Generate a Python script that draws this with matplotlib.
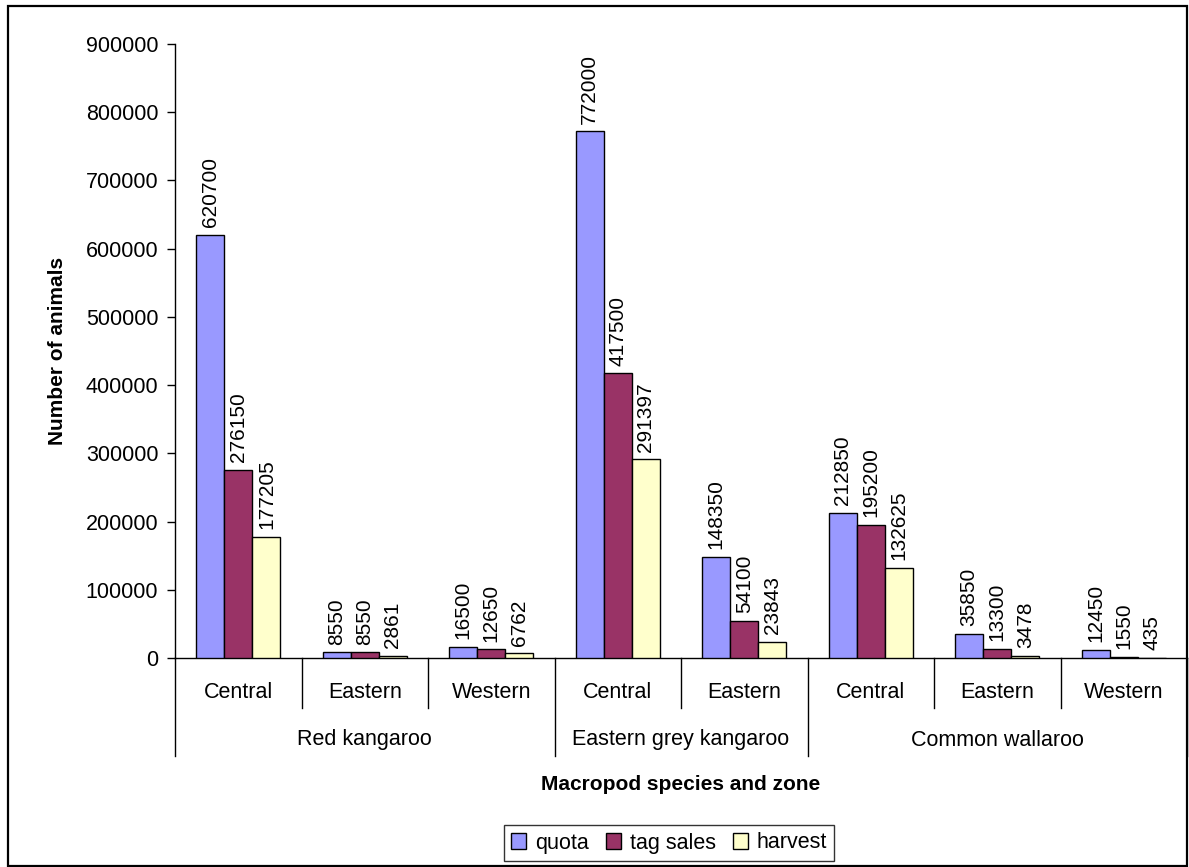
import matplotlib
matplotlib.use("Agg")
import matplotlib.pyplot as plt
from matplotlib.patches import Rectangle, Patch
import numpy as np

plt.rcParams['font.family'] = ['Liberation Sans', 'DejaVu Sans']

species = ["Red kangaroo", "Eastern grey kangaroo", "Common wallaroo"]
zones = [["Central", "Eastern", "Western"],
         ["Central", "Eastern"],
         ["Central", "Eastern", "Western"]]
series_names = ["quota", "tag sales", "harvest"]
quota = [620700, 8550, 16500, 772000, 148350, 212850, 35850, 12450]
tag_sales = [276150, 8550, 12650, 417500, 54100, 195200, 13300, 1550]
harvest = [177205, 2861, 6762, 291397, 23843, 132625, 3478, 435]
colors = ["#9999FF", "#993366", "#FFFFCC"]
yticks = list(range(0, 900001, 100000))

W, H = 1189, 867
fig = plt.figure(figsize=(W / 100, H / 100), dpi=100)
fig.patch.set_facecolor("white")

# outer chart border
fig.add_artist(Rectangle((8 / W, 1 - 866 / H), (1187 - 8) / W, (866 - 6) / H,
                         transform=fig.transFigure, fill=False,
                         edgecolor="black", linewidth=1.6))

ax_l, ax_r, ax_t, ax_b = 175, 1187, 44, 658
ax = fig.add_axes([ax_l / W, 1 - ax_b / H, (ax_r - ax_l) / W, (ax_b - ax_t) / H])
ax_h = ax_b - ax_t

n = len(quota)
x = np.arange(n) + 0.5
bw = 0.667 / 3
all_series = [quota, tag_sales, harvest]
for k, (vals, c, name) in enumerate(zip(all_series, colors, series_names)):
    xs = x + (k - 1) * bw
    ax.bar(xs, vals, width=bw, color=c, edgecolor="black", linewidth=1.0,
           label=name, zorder=3)
    for xi, v in zip(xs, vals):
        ax.annotate(f"{v}", (xi, v), xytext=(0, 5.5), textcoords="offset points",
                    rotation=90, ha="center", va="bottom", fontsize=15)

ax.set_xlim(0, n)
ax.set_ylim(0, 900000)
ax.set_yticks(yticks)
ax.set_yticklabels([str(t) for t in yticks], fontsize=15.5)
ax.tick_params(axis="y", direction="out", length=6, width=1.0, pad=6)
ax.set_xticks([])
for s in ["top", "right"]:
    ax.spines[s].set_visible(False)
ax.spines["left"].set_linewidth(1.0)
ax.spines["bottom"].set_linewidth(1.0)

# multi-level category axis
trans = ax.get_xaxis_transform()
lvl1 = -(708 - ax_b) / ax_h
lvl2 = -(756 - ax_b) / ax_h
pos = 0
bounds = [0]
for sp, zl in zip(species, zones):
    start = pos
    for z in zl:
        ax.text(pos + 0.5, -(692 - ax_b) / ax_h, z, transform=trans,
                ha="center", va="center", fontsize=15.5)
        pos += 1
        if pos < start + len(zl):
            ax.plot([pos, pos], [0, lvl1], transform=trans, color="black",
                    linewidth=1.0, clip_on=False)
    ax.text((start + pos) / 2, -(740 - ax_b) / ax_h, sp, transform=trans,
            ha="center", va="center", fontsize=15.5)
    bounds.append(pos)
for b in bounds:
    ax.plot([b, b], [0, lvl2], transform=trans, color="black",
            linewidth=1.0, clip_on=False)

fig.text((ax_l + ax_r) / 2 / W, 1 - 784 / H, "Macropod species and zone",
         ha="center", va="center", fontsize=15, fontweight="bold")
fig.text(58 / W, 1 - 351 / H, "Number of animals", rotation=90,
         ha="center", va="center", fontsize=15, fontweight="bold")

handles = [Patch(facecolor=c, edgecolor="black", linewidth=1.0) for c in colors]
leg = fig.legend(handles, series_names, loc="center",
                 bbox_to_anchor=(669 / W, 1 - 843 / H), ncol=3, fontsize=15.5,
                 frameon=True, fancybox=False, handlelength=0.7, handleheight=0.7,
                 handletextpad=0.4, columnspacing=0.8, borderpad=0.35,
                 borderaxespad=0)
leg.get_frame().set_edgecolor("black")
leg.get_frame().set_linewidth(1.0)

fig.savefig("out.png", dpi=100)
